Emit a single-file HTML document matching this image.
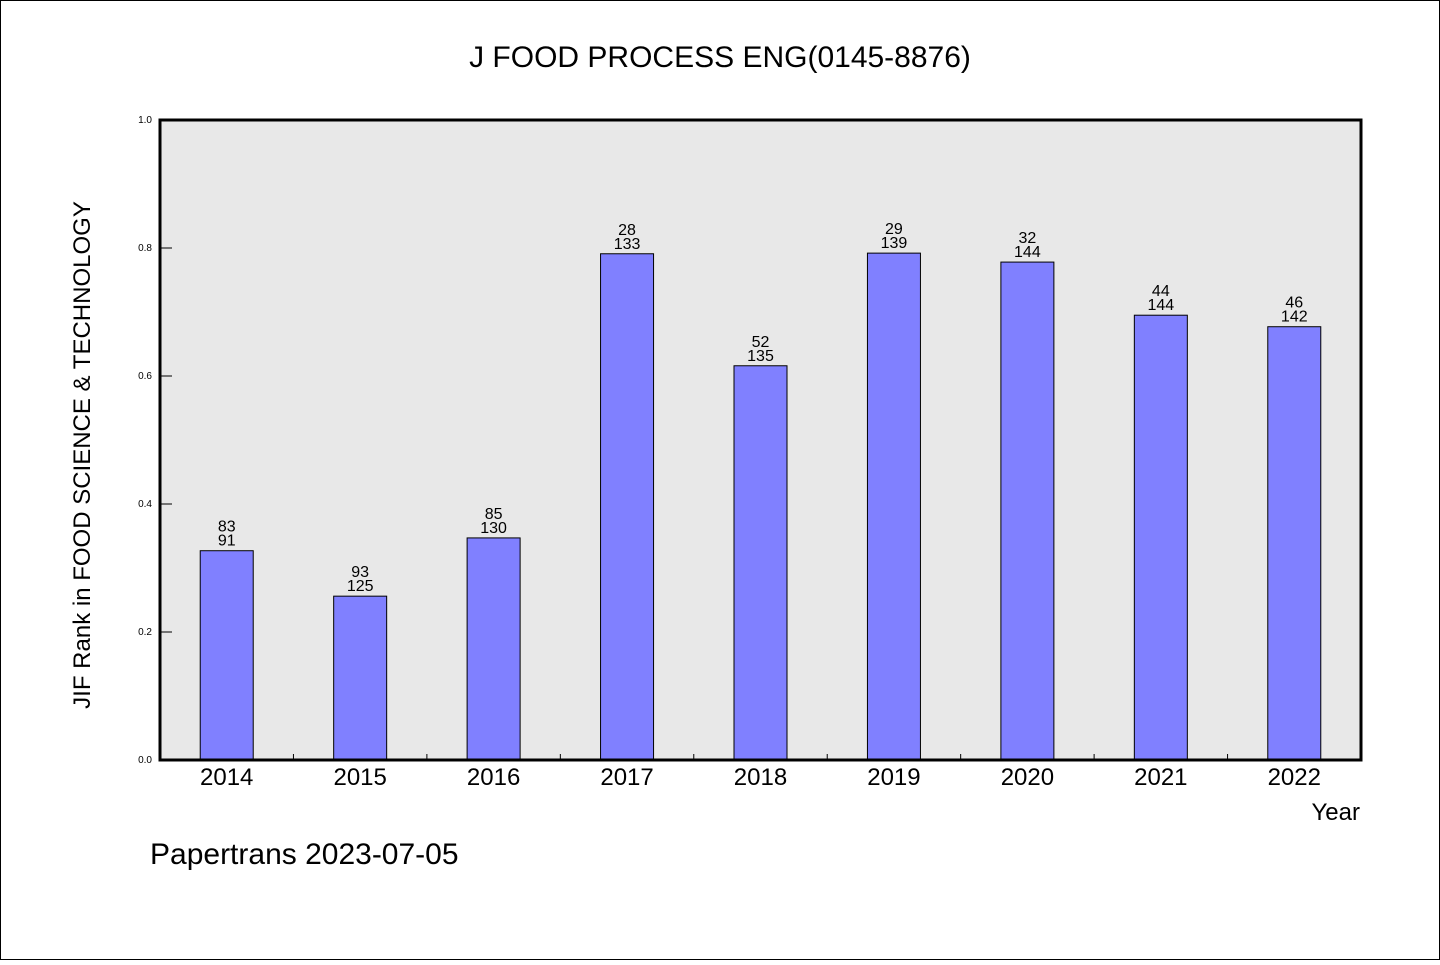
<!DOCTYPE html>
<html><head><meta charset="utf-8"><style>
html,body{margin:0;padding:0;background:#fff;}
svg text{font-family:"WenQuanYi Zen Hei","Liberation Sans",sans-serif;fill:#000;}
</style></head><body>
<svg width="1440" height="960" xmlns="http://www.w3.org/2000/svg">
<rect x="0.5" y="0.5" width="1439" height="959" fill="#fff" stroke="#000" stroke-width="1"/>
<text x="720" y="67" text-anchor="middle" font-size="30">J FOOD PROCESS ENG(0145-8876)</text>
<rect x="160" y="120" width="1201" height="640" fill="#e8e8e8"/>
<g id="ticks"></g>
<g id="bars"></g>
<rect x="160" y="120" width="1201" height="640" fill="none" stroke="#000" stroke-width="3"/>
<text transform="translate(90,455) rotate(-90)" text-anchor="middle" font-size="24">JIF Rank in FOOD SCIENCE &amp; TECHNOLOGY</text>
<text x="1360" y="820" text-anchor="end" font-size="24">Year</text>
<text x="150" y="864" font-size="30">Papertrans 2023-07-05</text>
</svg>
<script>
const years = ["2014","2015","2016","2017","2018","2019","2020","2021","2022"];
const values = [0.327,0.256,0.347,0.791,0.616,0.792,0.778,0.695,0.677];
const ranks = ["83","93","85","28","52","29","32","44","46"];
const totals = ["91","125","130","133","135","139","144","144","142"];
const yTicks = ["0.0","0.2","0.4","0.6","0.8","1.0"];
const NS="http://www.w3.org/2000/svg";
const X0=160,W=1201,Y0=760,H=640,n=years.length,step=W/n,bw=53;
const xc=i=>X0+step*(i+0.5);
const ys=v=>Y0-v*H;
function mk(tag,attrs,parent,txt){const e=document.createElementNS(NS,tag);for(const k in attrs)e.setAttribute(k,attrs[k]);if(txt!==undefined)e.textContent=txt;parent.appendChild(e);return e;}
const tg=document.getElementById('ticks'),bg=document.getElementById('bars');
yTicks.forEach(t=>{const y=ys(parseFloat(t));
 const l=mk('line',{x1:X0,x2:X0+12,y1:y,y2:y,stroke:'#000','stroke-width':1},tg);
 
 
 const tx=mk('text',{x:X0-8,y:y+3,'text-anchor':'end','font-size':10},tg,t);
 
 
});
for(let i=1;i<n;i++){const x=X0+step*i;
 const l=mk('line',{x1:x,x2:x,y1:Y0,y2:Y0-6,stroke:'#000','stroke-width':1},tg);
 
 
}
years.forEach((yr,i)=>{const x=xc(i),y=ys(values[i]);
 const r=mk('rect',{x:x-bw/2,y:y,width:bw,height:Y0-y,fill:'#8080ff',stroke:'#000','stroke-width':1},bg);
 
 
 const a=mk('text',{x:x,y:y-19,'text-anchor':'middle','font-size':16},bg,ranks[i]);
 
 
 const b=mk('text',{x:x,y:y-5,'text-anchor':'middle','font-size':16},bg,totals[i]);
 
 
 const c=mk('text',{x:x,y:785,'text-anchor':'middle','font-size':24},bg,yr);
 
 
});
</script>
</body></html>
